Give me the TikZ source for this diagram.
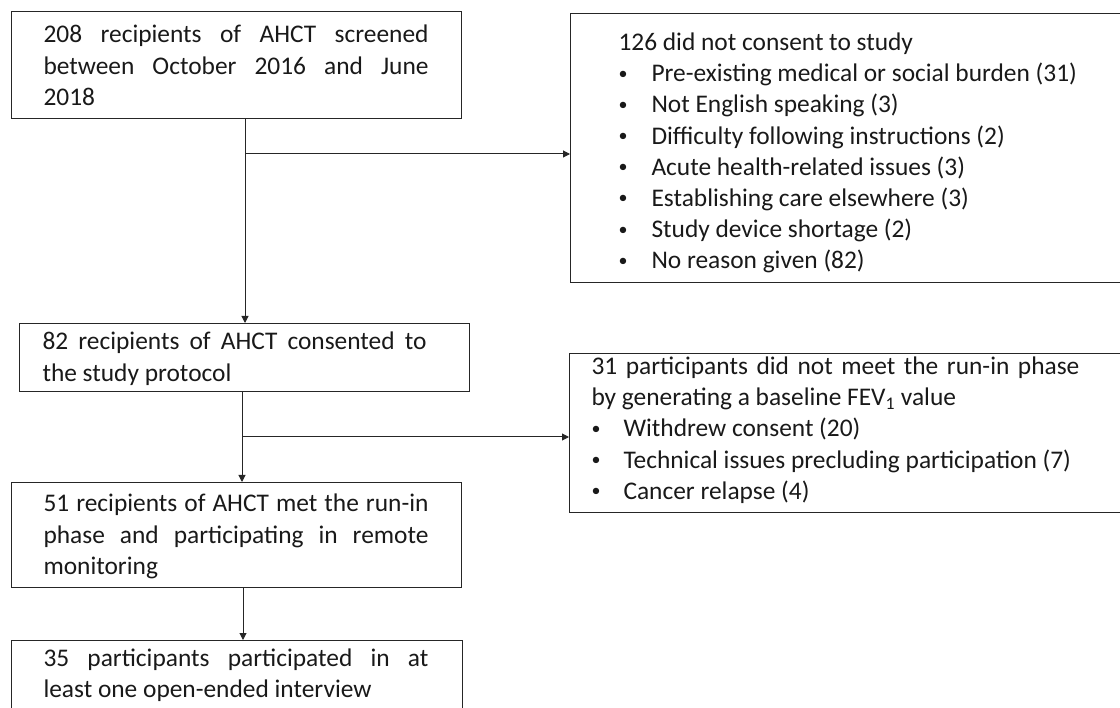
\documentclass[tikz,border=0pt]{standalone}
\usepackage{fontspec}
\setmainfont{Carlito}
\usetikzlibrary{arrows.meta}
\newcommand\nsp{\spaceskip=0pt\xspaceskip=0pt\relax}
\newcommand\jl[2]{\makebox[#1pt][s]{#2}}
\newcommand\dotb{\raisebox{2.6pt}{\fontsize{18}{18}\selectfont\textbullet}}
\newcommand\bul[2]{\makebox[#1pt][l]{\dotb}#2}
\newcommand\tp[1]{\rule{0pt}{#1pt}}
\newcommand\bt[1]{\rule[-#1pt]{0pt}{#1pt}}
\begin{document}
\begin{tikzpicture}[x=1pt,y=-1pt,
  box/.style={draw=black!85, line width=1pt, anchor=north west, inner ysep=0pt,
    align=left, text=black!90, font=\fontsize{25.4}{31.2}\selectfont},
  arr/.style={draw=black!85, line width=1pt, -{Triangle[length=7pt,width=7pt]}}]
\useasboundingbox (0,0) rectangle (1120,708);

\node[box, inner xsep=32pt, text width=386pt] (b1) at (11,11)
  {\nsp\tp{31.5}\jl{385}{208 recipients of AHCT screened}\\
   \jl{385}{between October 2016 and June}\\
   2018\bt{12.9}};

\node[box, inner xsep=23pt, text width=404pt] (b3) at (19,323)
  {\nsp\tp{26.5}\jl{384}{82 recipients of AHCT consented to}\\
   the study protocol\bt{10.3}};

\node[box, inner xsep=32pt, text width=386pt] (b5) at (11,482)
  {\nsp\tp{29.5}\jl{385}{51 recipients of AHCT met the run-in}\\
   \jl{385}{phase and participating in remote}\\
   monitoring\bt{13.1}};

\node[box, inner xsep=32pt, text width=387pt] (b6) at (11,640)
  {\nsp\tp{26}\jl{385}{35 participants participated in at}\\
   least one open-ended interview\bt{14}};

\node[box, inner xsep=48pt, text width=459pt] (b2) at (570,13)
  {\nsp\tp{37}126 did not consent to study\\
   \bul{33}{Pre-existing medical or social burden (31)}\\
   \bul{33}{Not English speaking (3)}\\
   \bul{33}{Difficulty following instructions (2)}\\
   \bul{33}{Acute health-related issues (3)}\\
   \bul{33}{Establishing care elsewhere (3)}\\
   \bul{33}{Study device shortage (2)}\\
   \bul{33}{No reason given (82)}\bt{13.6}};

\node[box, inner xsep=22pt, text width=512pt] (b4) at (569,353)
  {\nsp\tp{21}\jl{488}{31 participants did not meet the run-in phase}\\
   by generating a baseline FEV\textsubscript{1} value\\
   \bul{32}{Withdrew consent (20)}\\
   \bul{32}{Technical issues precluding participation (7)}\\
   \bul{32}{Cancer relapse (4)}\bt{13.2}};

\coordinate (j1) at (245,154);
\coordinate (j2) at (242,437);
\coordinate (j3) at (243,613);

\draw[arr] (b1.south -| j1) -- (b3.north -| j1);
\draw[arr] (j1) -- (j1 -| b2.west);
\draw[arr] (b3.south -| j2) -- (b5.north -| j2);
\draw[arr] (j2) -- (j2 -| b4.west);
\draw[arr] (b5.south -| j3) -- (b6.north -| j3);
\end{tikzpicture}
\end{document}
